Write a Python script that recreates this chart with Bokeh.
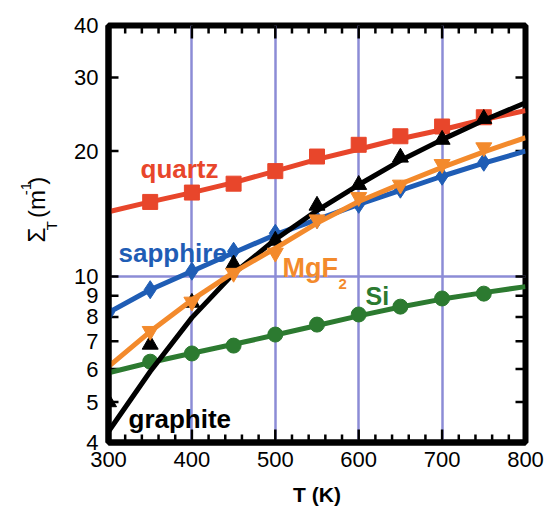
import math
from bokeh.plotting import figure
from bokeh.layouts import row
from bokeh.models import Range1d, FixedTicker, Label, PrintfTickFormatter
from bokeh.embed import file_html
from bokeh.resources import INLINE

# ---------------- data ----------------
T_fit = [300, 350, 400, 450, 500, 550, 600, 650, 700, 750, 800]
quartz_fit = [14.3, 15.1, 15.9, 16.8, 17.9, 19.1, 20.2, 21.4, 22.5, 23.8, 25.0]
sapphire_fit = [8.2, 9.3, 10.3, 11.4, 12.6, 13.7, 14.9, 16.1, 17.4, 18.7, 20.0]
mgf2_fit = [6.08, 7.38, 8.79, 10.23, 11.69, 13.43, 15.14, 16.67, 18.28, 19.91, 21.53]
si_fit = [5.88, 6.22, 6.55, 6.88, 7.24, 7.63, 8.05, 8.45, 8.83, 9.15, 9.46]
graphite_fit = [4.25, 5.92, 7.97, 10.17, 12.27, 14.4, 16.6, 18.97, 21.3, 23.7, 26.1]

T_quartz = [350, 400, 450, 500, 550, 600, 650, 700, 750]
quartz_pts = [15.1, 15.9, 16.7, 17.9, 19.4, 20.7, 21.7, 22.9, 24.1]
T_sapphire = [300, 350, 400, 450, 500, 550, 600, 650, 700, 750]
sapphire_pts = [8.2, 9.3, 10.3, 11.5, 12.7, 13.7, 14.9, 16.2, 17.4, 18.8]
T_mgf2 = [350, 400, 450, 500, 550, 600, 650, 700, 750]
mgf2_pts = [7.4, 8.7, 10.2, 11.4, 13.7, 15.5, 16.6, 18.6, 20.4]
T_si = [350, 400, 450, 500, 550, 600, 650, 700, 750]
si_pts = [6.25, 6.54, 6.83, 7.26, 7.67, 8.11, 8.47, 8.86, 9.10]
T_graphite = [300, 350, 400, 450, 500, 550, 600, 650, 700, 750]
graphite_pts = [5.0, 6.87, 8.66, 10.7, 12.2, 14.8, 16.6, 19.3, 21.3, 23.9]

x_ticks = [300, 400, 500, 600, 700, 800]
x_minor = [t for t in range(300, 801, 20) if t % 100 != 0]
y_ticks = [4, 5, 6, 7, 8, 9, 10, 20, 30, 40]

# ---------------- styles ----------------
C_QUARTZ = "#e8462b"
C_SAPPH = "#1f5db5"
C_MGF2 = "#f38a2c"
C_SI = "#2c7a30"
C_GRAPH = "#000000"
GRID = "#8c8cd6"
FONT = "Liberation Sans"

LEFTW = 60              # width of the strip holding the y-axis title
FL, FT, FW, FH = 108, 25, 417, 417
TOTAL_H = 511

def px_T(x):
    return 300 + (x - FL) * 500.0 / FW

def px_V(y):
    return 10 * 10 ** ((FT + FH * math.log10(4) - y) / FH)

def dx_T(d):
    return d * 500.0 / FW

def dlog(d):
    return 10 ** (d / FH)

# ---------------- y-axis title strip ----------------
p0 = figure(width=LEFTW, height=TOTAL_H, x_range=Range1d(0, LEFTW), y_range=Range1d(TOTAL_H, 0),
            output_backend="svg", toolbar_location=None,
            min_border_left=0, min_border_right=0, min_border_top=0, min_border_bottom=0)
p0.axis.visible = False
p0.grid.visible = False
p0.outline_line_color = None
p0.background_fill_color = "white"
p0.border_fill_color = "white"

A = math.pi / 2
def ylab(text, x, y, size):
    p0.add_layout(Label(x=x, y=y, text=text, text_font=FONT, text_font_size=size,
                        text_color="black", text_align="left",
                        text_baseline="alphabetic", angle=A))

ylab("\u03a3", 36, 266, "24px")
ylab("T", 51, 251, "15px")
ylab("(m", 36, 236, "24px")
ylab("-1", 25, 208, "15px")
ylab(")", 36, 195, "24px")

# ---------------- main plot ----------------
p = figure(frame_width=FW, frame_height=FH,
           x_range=Range1d(300, 800), y_range=Range1d(4, 40),
           y_axis_type="log", output_backend="svg", toolbar_location=None,
           min_border_left=FL - LEFTW, min_border_right=19, min_border_top=FT,
           min_border_bottom=TOTAL_H - FT - FH,
           background_fill_color="white", border_fill_color="white")

p.outline_line_color = "black"
p.outline_line_width = 6

p.xgrid.ticker = FixedTicker(ticks=[400, 500, 600, 700])
p.ygrid.ticker = FixedTicker(ticks=[10])
p.xgrid.grid_line_color = GRID
p.ygrid.grid_line_color = GRID
p.xgrid.grid_line_width = 2.5
p.ygrid.grid_line_width = 2.5

xb = p.below[0]
yl = p.left[0]
xb.ticker = FixedTicker(ticks=x_ticks, minor_ticks=x_minor)
yl.ticker = FixedTicker(ticks=y_ticks, minor_ticks=[])
yl.formatter = PrintfTickFormatter(format="%d")
for ax in (xb, yl):
    ax.axis_line_width = 6
    ax.axis_line_color = "black"
    ax.major_tick_in = 0
    ax.major_tick_out = 0
    ax.minor_tick_in = 0
    ax.minor_tick_out = 0
    ax.major_label_text_font = FONT
    ax.major_label_text_font_size = "22px"
    ax.major_label_text_color = "black"
xb.major_label_standoff = 9
yl.major_label_standoff = 10
xb.axis_label = "T (K)"
xb.axis_label_text_font = FONT
xb.axis_label_text_font_size = "21px"
xb.axis_label_text_font_style = "bold"
xb.axis_label_text_color = "black"
xb.axis_label_standoff = 13

# inward tick marks on all four sides (from the tick arrays)
nx, nm, ny = len(x_ticks), len(x_minor), len(y_ticks)
TK = dict(line_width=2.5, line_color="black")
p.segment(x0=x_ticks, y0=[4] * nx, x1=x_ticks, y1=[4 * dlog(13)] * nx, **TK)
p.segment(x0=x_ticks, y0=[40] * nx, x1=x_ticks, y1=[40 / dlog(13)] * nx, **TK)
p.segment(x0=x_minor, y0=[4] * nm, x1=x_minor, y1=[4 * dlog(8)] * nm, **TK)
p.segment(x0=x_minor, y0=[40] * nm, x1=x_minor, y1=[40 / dlog(8)] * nm, **TK)
p.segment(x0=[300] * ny, y0=y_ticks, x1=[300 + dx_T(10)] * ny, y1=y_ticks, **TK)
p.segment(x0=[800] * ny, y0=y_ticks, x1=[800 - dx_T(10)] * ny, y1=y_ticks, **TK)

# ---------------- series ----------------
LW = 5
p.line(T_fit, si_fit, line_width=LW, color=C_SI)
p.scatter(T_si, si_pts, marker="circle", size=15, color=C_SI)

p.line(T_fit, quartz_fit, line_width=LW, color=C_QUARTZ)
p.scatter(T_quartz, quartz_pts, marker="square", size=15, color=C_QUARTZ)

p.line(T_fit, sapphire_fit, line_width=LW, color=C_SAPPH)
p.scatter(T_sapphire, sapphire_pts, marker="diamond", size=18, color=C_SAPPH)

p.line(T_fit, graphite_fit, line_width=LW, color=C_GRAPH)
p.scatter(T_graphite, graphite_pts, marker="triangle", size=16, color=C_GRAPH)

p.line(T_fit, mgf2_fit, line_width=LW, color=C_MGF2)
p.scatter(T_mgf2, mgf2_pts, marker="inverted_triangle", size=16, color=C_MGF2)

# ---------------- in-plot labels ----------------
def add_text(text, xpx, ypx, size, color):
    p.add_layout(Label(x=px_T(xpx), y=px_V(ypx), text=text,
                       text_font=FONT, text_font_size=size, text_font_style="bold",
                       text_color=color, text_align="left", text_baseline="alphabetic"))

add_text("quartz", 140, 168, "26px", C_QUARTZ)
add_text("sapphire", 118, 252, "26px", C_SAPPH)
add_text("MgF", 282, 267, "27px", C_MGF2)
add_text("2", 338, 283, "15px", C_MGF2)
add_text("Si", 365, 295, "25px", C_SI)
add_text("graphite", 128, 418, "26px", C_GRAPH)

layout = row(p0, p)
open("out.html", "w").write(file_html(layout, INLINE))
